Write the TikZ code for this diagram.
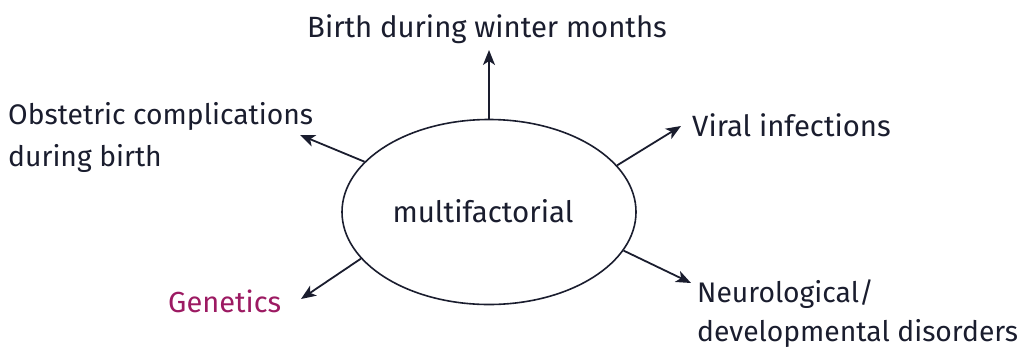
\documentclass[tikz,border=0pt]{standalone}
\usepackage{fontspec}
\setmainfont{Fira Sans}
\usetikzlibrary{arrows.meta,shapes.geometric}
\definecolor{ink}{HTML}{1A1D2E}
\definecolor{magentaink}{HTML}{9C1A62}
\tikzset{
  lbl/.style={font=\fontsize{29.3}{29.3}\selectfont, text=ink, inner sep=0pt, anchor=base west},
  arr/.style={draw=ink, line width=1.8pt, -{Stealth[length=15pt,width=12pt,inset=4pt]}},
}
\begin{document}
\begin{tikzpicture}[x=1pt,y=-1pt]
\useasboundingbox (0,0) rectangle (1024,357);
\node[draw=ink, line width=1.6pt, ellipse, minimum width=294pt, minimum height=185pt, inner sep=0pt] (c) at (489,212) {};
\node[font=\fontsize{29.5}{29.5}\selectfont, text=ink, inner sep=0pt, anchor=base] (m) at (483,222) {multifactorial};
\node[lbl] (birth) at (307,37) {Birth during winter months};
\node[lbl, font=\fontsize{28.3}{28.3}\selectfont] (obs1) at (8,124) {Obstetric complications};
\node[lbl, font=\fontsize{28.3}{28.3}\selectfont] (obs2) at (8,166) {during birth};
\node[lbl] (viral) at (692,136) {Viral infections};
\node[lbl, text=magentaink, font=\fontsize{29}{29}\selectfont] (gen) at (168,312) {Genetics};
\node[lbl, font=\fontsize{28.3}{28.3}\selectfont] (neu1) at (697,302) {Neurological/};
\node[lbl, font=\fontsize{28.3}{28.3}\selectfont] (neu2) at (697,341) {developmental disorders};
\coordinate (tbirth) at (489,50);
\coordinate (tobs) at (300,135);
\coordinate (tviral) at (681,126);
\coordinate (tgen) at (301,299);
\coordinate (tneu) at (691,283);
\draw[arr] (c.north) -- (tbirth);
\draw[arr] (c.158) -- (tobs);
\draw[arr] (c.20) -- (tviral);
\draw[arr] (c.200) -- (tgen);
\draw[arr] (c.-16) -- (tneu);
\end{tikzpicture}
\end{document}
